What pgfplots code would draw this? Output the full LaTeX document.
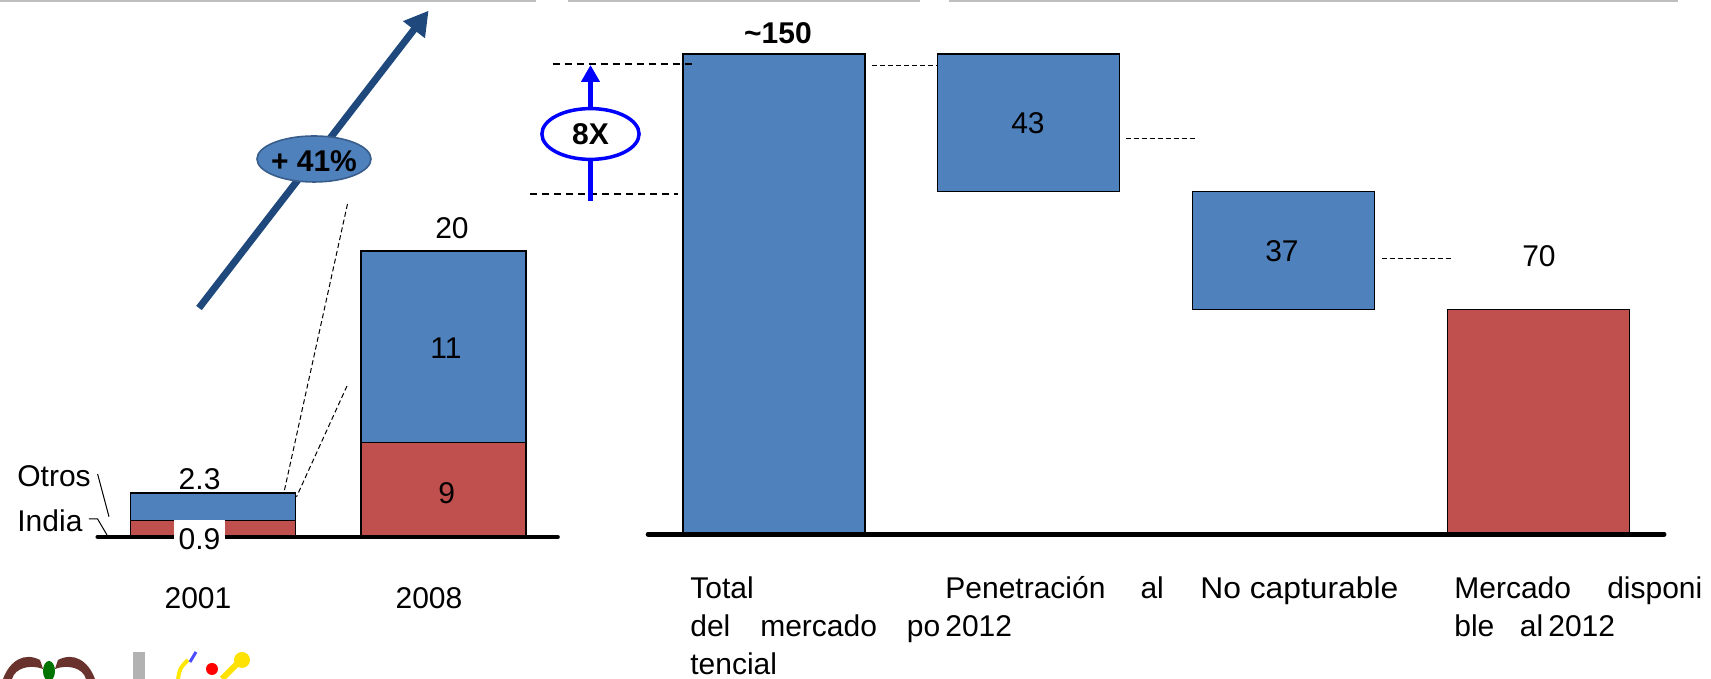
\documentclass[border=0pt]{standalone}
\usepackage{fontspec}
\setmainfont{Liberation Sans}
\usepackage{graphicx}
\usepackage{pgfplots}
\pgfplotsset{compat=1.18}
\usetikzlibrary{arrows.meta}
\definecolor{barblue}{HTML}{4F81BD}
\definecolor{barred}{HTML}{C0504D}
\definecolor{arrowblue}{HTML}{1F497D}
\definecolor{ellborder}{HTML}{385D8A}
\definecolor{eaglebrown}{RGB}{105,50,45}
\begin{document}
\begin{tikzpicture}[font=\fontsize{15bp}{18bp}\selectfont]
\useasboundingbox (0,0) rectangle (855.5bp,339.5bp);
% ---------------- left chart: 2001 vs 2008 ----------------
\begin{axis}[at={(47.72bp,71.5bp)}, anchor=south west, scale only axis,
  width=232.23bp, height=268bp, xmin=-0.51, xmax=1.505, ymin=0, ymax=37.614,
  hide axis, clip=false, ybar stacked, bar width=0.716]
\addplot[fill=barred, draw=black, line width=0.6bp] coordinates {(0,1.07) (1,6.55)};
\addplot[fill=barblue, draw=black, line width=0.6bp] coordinates {(0,1.95) (1,13.45)};
\draw[line width=2.25bp, line cap=round] (axis cs:-0.50,-0.07) -- (axis cs:1.495,-0.07);
\end{axis}
% ---------------- right chart: waterfall ----------------
\begin{axis}[at={(323bp,73bp)}, anchor=south west, scale only axis,
  width=510.37bp, height=266.5bp, xmin=-0.5026, xmax=3.505, ymin=0, ymax=166.92,
  hide axis, clip=false, ybar stacked, bar width=0.7146]
\addplot[draw=none, fill=none] coordinates {(0,0) (1,107) (2,70) (3,0)};
\addplot[fill=barblue, draw=black, line width=0.6bp] coordinates {(0,150) (1,43) (2,37) (3,0)};
\addplot[fill=barred, draw=black, line width=0.6bp] coordinates {(0,0) (1,0) (2,0) (3,70)};
\draw[line width=2.25bp, line cap=round] (axis cs:-0.495,-0.4) -- (axis cs:3.495,-0.4);
\end{axis}
% ---------------- annotations (pixel coordinates) ----------------
\begin{scope}[x=0.5bp, y=-0.5bp, yshift=339.5bp]
% top grey rules
\draw[black!25, line width=1bp] (0,1) -- (536,1);
\draw[black!25, line width=1bp] (568,1) -- (920,1);
\draw[black!25, line width=1bp] (949,1) -- (1678,1);
% growth arrow
\draw[arrowblue, line width=3.5bp, -{Triangle[length=12bp,width=13bp]}] (199,308) -- (428.6,10.7);
\draw[ellborder, fill=barblue, line width=0.8bp] (314,159) ellipse [x radius=28.5bp, y radius=11.5bp];
\node[anchor=base, font=\fontsize{15bp}{18bp}\selectfont\bfseries] at (314,171.7) {+ 41\%};
% zoom dashed lines
\draw[line width=0.5bp, dash pattern=on 2.5bp off 1.5bp] (347.5,204) -- (284,492.3);
\draw[line width=0.5bp, dash pattern=on 2.5bp off 1.5bp] (347,386) -- (296.6,496.7);
% leader lines
\draw[line width=0.5bp] (97.6,474) -- (109,516.7);
\draw[line width=0.5bp] (88.8,519) -- (97.6,519) -- (107,535);
\node[anchor=base west, inner sep=0] at (17,486.7) {Otros};
\node[anchor=base west, inner sep=0] at (17,531.7) {India};
% left labels
\node[anchor=base] at (199.6,490) {2.3};
\fill[white] (174,520) rectangle (225,553);
\node[anchor=base] at (199.5,550) {0.9};
\node[anchor=base] at (452,238.3) {20};
\node[anchor=base] at (446,358.3) {11};
\node[anchor=base] at (446.6,503.3) {9};
\node[anchor=base] at (198,608.3) {2001};
\node[anchor=base] at (429,608.3) {2008};
% 8X marker
\draw[line width=1bp, dash pattern=on 3.5bp off 2.5bp] (552.6,64.3) -- (694,64.3);
\draw[line width=1bp, dash pattern=on 3.5bp off 2.5bp] (530,194.3) -- (678.5,194.3);
\draw[blue, line width=2.25bp, -{Triangle[length=8.5bp,width=9bp]}] (590.5,201) -- (590.5,65);
\draw[blue, fill=white, line width=1.75bp] (590.5,134) ellipse [x radius=24.3bp, y radius=12.7bp];
\node[anchor=base, font=\fontsize{15bp}{18bp}\selectfont\bfseries] at (590.5,145) {8X};
% waterfall connectors
\draw[line width=0.5bp, dash pattern=on 2.5bp off 1.5bp] (872,65.7) -- (936.5,65.7);
\draw[line width=0.5bp, dash pattern=on 2.5bp off 1.5bp] (1126,138.3) -- (1197.7,138.3);
\draw[line width=0.5bp, dash pattern=on 2.5bp off 1.5bp] (1381.8,258.3) -- (1453,258.3);
% waterfall labels
\node[anchor=base, font=\fontsize{15bp}{18bp}\selectfont\bfseries] at (778,43.3) {\textasciitilde150};
\node[anchor=base] at (1028,133.3) {43};
\node[anchor=base] at (1282,261.7) {37};
\node[anchor=base] at (1539,266.7) {70};
% category labels
\node[anchor=base west, inner sep=0] at (690,598.3) {Total};
\node[anchor=base west, inner sep=0] at (690,636.7) {\makebox[125bp][s]{del mercado po}};
\node[anchor=base west, inner sep=0] at (690,675) {tencial};
\node[anchor=base west, inner sep=0] at (945,598.3) {\makebox[109.25bp][s]{Penetración al}};
\node[anchor=base west, inner sep=0] at (945,636.7) {2012};
\node[anchor=base west, inner sep=0] at (1200,598.3) {\scalebox{1.06}[1]{No capturable}};
\node[anchor=base west, inner sep=0] at (1454,598.3) {\makebox[124bp][s]{Mercado disponi}};
\node[anchor=base west, inner sep=0] at (1454,636.7) {ble\hspace{12.8bp}al\hspace{2.5bp}2012};
% logos (approximate)
\fill[eaglebrown] (3,679) .. controls (10,660) and (25,652) .. (40,660) -- (43,669) .. controls (30,664) and (15,668) .. (12,679) -- cycle;
\fill[eaglebrown] (95,679) .. controls (88,660) and (73,652) .. (58,660) -- (55,669) .. controls (68,664) and (83,668) .. (86,679) -- cycle;
\fill[green!45!black] (49,671) ellipse [x radius=3bp, y radius=5bp];
\fill[black!30] (133,652) rectangle (145,679);
\draw[yellow!90!orange, line width=2bp] (178,679) .. controls (180,668) .. (188,660);
\draw[blue!70, line width=1.5bp] (190,662) -- (196,652);
\fill[red] (212,669) circle (3bp);
\draw[yellow!85!orange, line width=3bp] (222,679) -- (238,663);
\fill[yellow!85!orange] (242,660) circle (4bp);
\end{scope}
\end{tikzpicture}
\end{document}
